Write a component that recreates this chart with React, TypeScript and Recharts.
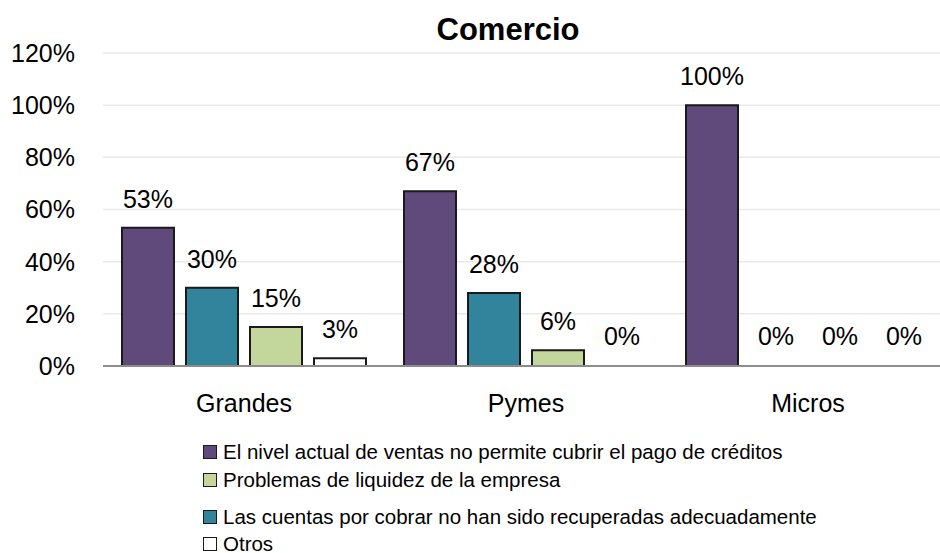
import React from 'react';
import { BarChart, Bar, XAxis, YAxis, CartesianGrid, LabelList, Cell } from 'recharts';

const categories = ['Grandes', 'Pymes', 'Micros'];
const nivelVentas = [53, 67, 100];
const cuentasCobrar = [30, 28, 0];
const liquidez = [15, 6, 0];
const otros = [3, 0, 0];
const yTicks = [0, 20, 40, 60, 80, 100, 120];

const seriesDefs = [
  { key: 'nivel', name: 'El nivel actual de ventas no permite cubrir el pago de créditos', color: '#5f4a7b', values: nivelVentas },
  { key: 'cuentas', name: 'Las cuentas por cobrar no han sido recuperadas adecuadamente', color: '#31849b', values: cuentasCobrar },
  { key: 'liquidez', name: 'Problemas de liquidez de la empresa', color: '#c3d69b', values: liquidez },
  { key: 'otros', name: 'Otros', color: '#ffffff', values: otros },
];
const legendOrder = ['nivel', 'liquidez', 'cuentas', 'otros'];

const data = categories.map((c, i) => {
  const row: any = { name: c, pos: i };
  seriesDefs.forEach((s) => (row[s.key] = s.values[i]));
  return row;
});

const FONT = "'Liberation Sans', Arial, sans-serif";

export default function App() {
  const legendRows = legendOrder.map((k) => seriesDefs.find((s) => s.key === k)!);
  const rowCenters = [452, 480, 517, 544];
  return (
    <div style={{ position: 'absolute', left: 0, top: 0, width: 940, height: 553, overflow: 'hidden', background: '#fff', fontFamily: FONT }}>
      <div style={{ position: 'absolute', left: 0, width: 1016, top: 10, textAlign: 'center', fontWeight: 'bold', fontSize: 31, lineHeight: '40px', color: '#000' }}>
        Comercio
      </div>
      <BarChart
        width={960}
        height={553}
        data={data}
        margin={{ top: 53, right: 11, left: 0, bottom: 137 }}
        barCategoryGap={19}
        barGap={12}
      >
        <CartesianGrid vertical={false} stroke="#e9e9e9" strokeWidth={1.5} xAxisId="b" />
        <XAxis
          xAxisId="a"
          type="number"
          dataKey="pos"
          domain={[0, 3]}
          ticks={[0, 1, 2, 3]}
          height={1}
          tick={false}
          tickSize={9}
          axisLine={{ stroke: '#8c8c8c', strokeWidth: 2 }}
          tickLine={{ stroke: '#8c8c8c', strokeWidth: 2 }}
          allowDataOverflow
        />
        <XAxis
          xAxisId="b"
          dataKey="name"
          height={49}
          axisLine={false}
          tickLine={false}
          tickSize={0}
          tickMargin={27}
          tick={{ fontSize: 25, fill: '#000', fontFamily: FONT }}
        />
        <YAxis
          width={103}
          domain={[0, 120]}
          ticks={yTicks}
          axisLine={false}
          tickLine={false}
          tickSize={0}
          tickMargin={28}
          tickFormatter={(v: number) => `${v}%`}
          tick={{ fontSize: 25, fill: '#000', fontFamily: FONT }}
        />
        {seriesDefs.map((s) => (
          <Bar key={s.key} xAxisId="b" dataKey={s.key} name={s.name} fill={s.color} stroke="#1a1a1a" strokeWidth={2} minPointSize={1} isAnimationActive={false}>
            {s.values.map((v, i) => (
              <Cell key={i} fill={v === 0 ? 'none' : s.color} stroke={v === 0 ? 'none' : '#1a1a1a'} />
            ))}
            <LabelList
              dataKey={s.key}
              position="top"
              offset={20}
              formatter={(v: any) => `${v}%`}
              style={{ fontSize: 25, fill: '#000', fontFamily: FONT }}
            />
          </Bar>
        ))}
      </BarChart>
      {legendRows.map((s, i) => (
        <div key={s.key} style={{ position: 'absolute', left: 203, top: rowCenters[i] - 12, height: 24, display: 'flex', alignItems: 'center', fontSize: 20.5, lineHeight: '24px', color: '#000', whiteSpace: 'nowrap' }}>
          <span style={{ display: 'inline-block', boxSizing: 'border-box', width: 14, height: 14, background: s.color, border: '1.5px solid #1a1a1a', marginRight: 6 }} />
          <span>{s.name}</span>
        </div>
      ))}
    </div>
  );
}
